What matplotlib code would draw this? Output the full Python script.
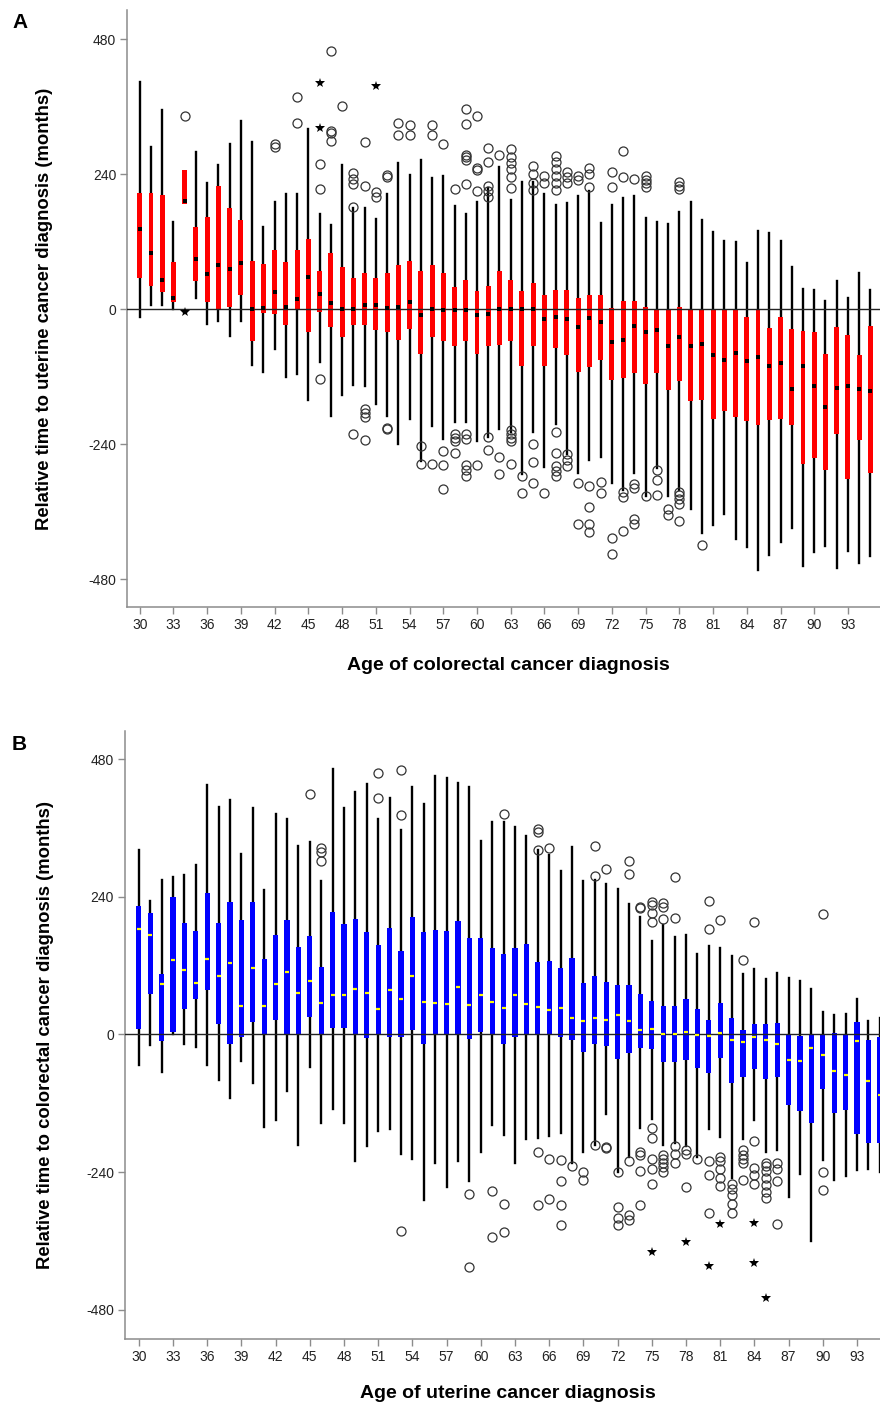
import numpy as np
import matplotlib.pyplot as plt

plt.rcParams['font.family'] = ['Liberation Sans', 'DejaVu Sans']
plt.rcParams['axes.unicode_minus'] = False

ages = list(range(30, 96))
xticks = list(range(30, 94, 3))
yticks = [-480, -240, 0, 240, 480]

# Panel A: relative time to uterine cancer diagnosis, by age of colorectal cancer diagnosis
a_wlo = [-14, 8, 8, 0, 188, 20, -26, -21, -48, -21, -99, -112, -70, -120, -115, -161, -94, -190, -152, -134,
         -137, -168, -190, -239, -195, -270, -208, -230, -200, -201, -234, -227, -212, -218, -292, -218, -280, -203, -257, -290,
         -268, -263, -309, -321, -290, -332, -282, -332, -321, -355, -398, -384, -363, -408, -422, -463, -437, -413, -389, -456,
         -431, -420, -460, -429, -450, -438]
a_q1 = [55, 42, 30, 13, 188, 50, 13, 0, 5, 26, -57, -6, -9, -28, 0, -41, -4, -32, -50, -28,
        -27, -37, -41, -54, -35, -80, -50, -56, -65, -57, -79, -66, -63, -57, -101, -65, -101, -68, -82, -111,
        -103, -90, -126, -122, -113, -132, -113, -143, -128, -163, -161, -195, -181, -192, -199, -205, -197, -195, -206, -275,
        -265, -285, -222, -302, -232, -290]
a_med = [143, 101, 52, 21, 192, 90, 63, 79, 71, 83, 0, 3, 31, 5, 19, 58, 27, 12, 0, 0,
         8, 8, 3, 5, 13, -10, 0, -1, -1, -1, -10, -8, 0, 0, 0, 0, -17, -13, -17, -31,
         -15, -22, -58, -54, -30, -41, -37, -66, -50, -65, -61, -81, -90, -77, -92, -85, -101, -96, -142, -100,
         -136, -173, -140, -136, -141, -145]
a_q3 = [206, 206, 203, 85, 248, 146, 165, 219, 180, 159, 86, 81, 106, 84, 106, 125, 69, 100, 76, 55,
        64, 55, 65, 79, 86, 69, 79, 65, 40, 52, 32, 41, 69, 52, 32, 46, 26, 35, 34, 21,
        25, 26, 2, 14, 14, 4, 0, 0, 4, 0, 0, 0, 0, 0, -14, 0, -33, -14, -35, -39,
        -41, -80, -31, -46, -82, -30]
a_whi = [404, 288, 354, 155, 248, 280, 225, 256, 294, 334, 297, 146, 190, 205, 205, 321, 170, 150, 256, 180,
         180, 161, 205, 260, 238, 266, 234, 237, 183, 169, 190, 216, 253, 194, 226, 226, 205, 185, 189, 202,
         210, 154, 186, 197, 202, 162, 155, 152, 173, 190, 159, 137, 121, 120, 82, 139, 136, 121, 75, 37,
         35, 15, 51, 21, 64, 34]

a_circles = [(34, 343), (42, 294), (42, 288), (44, 377), (44, 331), (46, 258), (46, 213), (46, -123),
             (47, 460), (47, 317), (47, 313), (47, 299), (48, 362),
             (49, 242), (49, 231), (49, 222), (49, 182), (49, -222),
             (50, 297), (50, 219), (50, -177), (50, -185), (50, -192), (50, -232), (51, 208), (51, 200),
             (52, 239), (52, 236), (52, -210), (52, -213), (53, 331), (53, 310), (54, 328), (54, 310),
             (55, -242), (55, -274), (56, 328), (56, 310), (56, -274), (57, 294), (57, -252), (57, -277), (57, -319),
             (58, 214), (58, -222), (58, -228), (58, -234), (58, -255),
             (59, 356), (59, 330), (59, 275), (59, 270), (59, 265), (59, 223), (59, -222), (59, -230), (59, -277),
             (59, -286), (59, -297),
             (60, 344), (60, 252), (60, 247), (60, 210), (60, -277),
             (61, 286), (61, 261), (61, 220), (61, 210), (61, 200), (61, -227), (61, -250),
             (62, 275), (62, -263), (62, -292),
             (63, 285), (63, 270), (63, 260), (63, 250), (63, 235), (63, 215), (63, -215), (63, -222), (63, -228),
             (63, -234), (63, -274),
             (64, -297), (64, -327),
             (65, 254), (65, 240), (65, 225), (65, 212), (65, -239), (65, -272), (65, -308),
             (66, 237), (66, 225), (66, -326),
             (67, 273), (67, 262), (67, 250), (67, 237), (67, 225), (67, 212), (67, -218), (67, -256), (67, -279),
             (67, -288), (67, -297),
             (68, 244), (68, 235), (68, 225), (68, -257), (68, -268), (68, -279),
             (69, 237), (69, 230), (69, -308), (69, -382),
             (70, 252), (70, 240), (70, 218), (70, -314), (70, -352), (70, -382), (70, -395),
             (71, -306), (71, -327), (72, 244), (72, 217), (72, -406), (72, -434),
             (73, 281), (73, 235), (73, -324), (73, -333), (73, -394),
             (74, 232), (74, -311), (74, -317), (74, -372), (74, -382),
             (75, 237), (75, 230), (75, 224), (75, 218), (75, -332),
             (76, -285), (76, -303), (76, -330), (77, -355), (77, -366),
             (78, 226), (78, 220), (78, 213), (78, -324), (78, -330), (78, -337), (78, -346), (78, -377),
             (80, -419)]
a_stars = [(34, -5), (46, 402), (46, 323), (51, 397)]

# Panel B: relative time to colorectal cancer diagnosis, by age of uterine cancer diagnosis
b_wlo = [-54, -19, -66, 0, -17, -22, -54, -80, -111, -47, -85, -162, -149, -98, -192, -57, -155, -130, -154, -221,
         -194, -169, -165, -208, -218, -289, -224, -266, -221, -256, -205, -158, -176, -224, -183, -181, -177, -171, -224, -205,
         -192, -138, -239, -214, -163, -147, -192, -189, -195, -214, -165, -179, -250, -182, -149, -205, -201, -283, -243, -360,
         -219, -253, -246, -237, -234, -240]
b_q1 = [10, 70, -12, 4, 44, 61, 78, 18, -16, -5, 21, 0, 26, 0, 0, 30, 0, 12, 12, 0,
        -6, 0, -5, -5, 7, -17, 0, 0, 0, -8, 4, 0, -17, -5, 0, 0, 0, -5, -10, -30,
        -17, -21, -43, -32, -23, -26, -48, -48, -44, -58, -68, -41, -85, -74, -61, -78, -74, -123, -133, -155,
        -95, -137, -131, -173, -190, -190]
b_med = [183, 174, 88, 130, 113, 90, 132, 101, 125, 49, 115, 50, 88, 109, 73, 94, 55, 68, 68, 79,
         72, 45, 78, 61, 101, 57, 55, 53, 83, 52, 68, 57, 46, 68, 53, 47, 42, 46, 28, 23,
         28, 26, 34, 23, 7, 10, 0, 0, 5, -1, -3, 2, -9, -14, -5, -10, -17, -44, -46, -23,
         -35, -64, -70, -12, -81, -106]
b_q3 = [224, 212, 105, 239, 194, 180, 247, 195, 231, 199, 231, 131, 173, 199, 152, 172, 118, 213, 193, 202,
        178, 156, 186, 145, 204, 178, 182, 180, 198, 168, 168, 150, 141, 150, 157, 127, 128, 116, 133, 90,
        101, 92, 86, 86, 70, 59, 50, 50, 62, 44, 26, 54, 28, 7, 18, 18, 20, 0, -3, 0,
        0, 3, -1, 21, -10, -4]
b_whi = [322, 233, 270, 275, 278, 295, 435, 397, 408, 315, 395, 251, 385, 375, 328, 335, 267, 463, 395, 423,
         437, 375, 413, 357, 432, 402, 451, 447, 438, 431, 338, 370, 370, 362, 346, 322, 312, 285, 326, 267,
         270, 262, 253, 228, 204, 163, 191, 170, 174, 141, 155, 151, 137, 105, 114, 96, 107, 99, 94, 79,
         39, 34, 35, 62, 24, 28]

b_circles = [(45, 420), (46, 325), (46, 318), (46, 302), (51, 456), (51, 412), (53, 461), (53, 383), (53, -342),
             (59, -279), (59, -405), (61, -273), (61, -354), (62, 384), (62, -295), (62, -344),
             (65, 359), (65, 353), (65, 322), (65, -205), (65, -297), (66, 325), (66, -218), (66, -287),
             (67, -219), (67, -256), (67, -297), (67, -332), (68, -229), (69, -240), (69, -253),
             (70, 328), (70, 276), (70, -192), (71, 289), (71, -196), (71, -198),
             (72, -240), (72, -300), (72, -320), (72, -333),
             (73, 302), (73, 280), (73, -221), (73, -315), (73, -324),
             (74, 222), (74, 220), (74, -205), (74, -211), (74, -238), (74, -297),
             (75, 231), (75, 225), (75, 212), (75, 196), (75, -163), (75, -181), (75, -218), (75, -234), (75, -261),
             (76, 230), (76, 222), (76, 202), (76, -211), (76, -218), (76, -225), (76, -232), (76, -240),
             (77, 275), (77, 203), (77, -195), (77, -208), (77, -224),
             (78, -202), (78, -209), (78, -266), (79, -218),
             (80, 233), (80, 183), (80, -221), (80, -245), (80, -311),
             (81, 199), (81, -213), (81, -220), (81, -234), (81, -250), (81, -265),
             (82, -260), (82, -270), (82, -280), (82, -295), (82, -311),
             (83, 129), (83, -202), (83, -210), (83, -217), (83, -224), (83, -253),
             (84, 196), (84, -185), (84, -233), (84, -245), (84, -260),
             (85, -224), (85, -230), (85, -238), (85, -250), (85, -262), (85, -275), (85, -286),
             (86, -224), (86, -234), (86, -255), (86, -331),
             (90, 210), (90, -240), (90, -271)]
b_stars = [(75, -379), (78, -362), (80, -403), (81, -331), (84, -329), (84, -399), (85, -460)]


def draw_panel(ax, wlo, q1, med, q3, whi, circles, stars, box_color, med_color, med_marker,
               xlim, ylim, xlabel, ylabel):
    stats = [dict(whislo=w0, q1=b0, med=m, q3=b1, whishi=w1, fliers=[])
             for w0, b0, m, b1, w1 in zip(wlo, q1, med, q3, whi)]
    bp = ax.bxp(stats, positions=ages, widths=0.44, patch_artist=True, showcaps=False,
                showfliers=False, manage_ticks=False,
                boxprops=dict(facecolor=box_color, edgecolor='none', linewidth=0),
                whiskerprops=dict(color='black', linewidth=1.7),
                medianprops=dict(linewidth=0))
    for b in bp['boxes']:
        b.set_zorder(2.5)
    ax.axhline(0, color='#222222', linewidth=1.0, zorder=3)
    if med_marker == 's':
        ax.plot(ages, med, ls='none', marker='s', ms=2.2, color=med_color, mew=0, zorder=4)
    else:
        ax.plot(ages, med, ls='none', marker='_', ms=3.5, mew=1.6, color=med_color, zorder=4)
    cx, cy = zip(*circles)
    ax.plot(cx, cy, ls='none', marker='o', ms=6.5, mfc='none', mec='#333333', mew=0.9, zorder=5)
    sx, sy = zip(*stars)
    ax.plot(sx, sy, ls='none', marker='*', ms=7.5, color='black', mew=0, zorder=5)

    ax.set_xlim(*xlim)
    ax.set_ylim(*ylim)
    ax.set_xticks(xticks)
    ax.set_yticks(yticks)
    for s in ['top', 'right']:
        ax.spines[s].set_visible(False)
    for s in ['left', 'bottom']:
        ax.spines[s].set_color('#8c8c8c')
        ax.spines[s].set_linewidth(1.1)
    ax.tick_params(direction='out', length=5, width=1, color='#8c8c8c',
                   labelsize=10, labelcolor='#222222', pad=3)
    ax.set_xlabel(xlabel, fontsize=14, fontweight='bold', va='center')
    ax.set_ylabel(ylabel, fontsize=13.3, fontweight='bold', va='center')


fig = plt.figure(figsize=(8.8, 14.08), dpi=100)

axA = fig.add_axes([127.4 / 880, 1 - 607 / 1408, 755.4 / 880, 597 / 1408])
draw_panel(axA, a_wlo, a_q1, a_med, a_q3, a_whi, a_circles, a_stars, '#ff0000', 'black', 's',
           (28.9, 96.1), (-529, 532),
           'Age of colorectal cancer diagnosis',
           'Relative time to uterine cancer diagnosis (months)')
axA.xaxis.set_label_coords((508 - 127.4) / 755.4, -(666 - 607) / 597)
axA.yaxis.set_label_coords((45 - 127.4) / 755.4, 0.5)

axB = fig.add_axes([125 / 880, 1 - 1339 / 1408, 768.6 / 880, 608 / 1408])
draw_panel(axB, b_wlo, b_q1, b_med, b_q3, b_whi, b_circles, b_stars, '#0000ff', '#ffff00', '_',
           (28.79, 96.21), (-531, 529),
           'Age of uterine cancer diagnosis',
           'Relative time to colorectal cancer diagnosis (months)')
axB.xaxis.set_label_coords((508 - 125) / 768.6, -(1394 - 1339) / 608)
axB.yaxis.set_label_coords((45 - 125) / 768.6, 0.5)

fig.text(12 / 880, 1 - 22 / 1408, 'A', fontsize=15, fontweight='bold', ha='left', va='center')
fig.text(12 / 880, 1 - 744 / 1408, 'B', fontsize=15, fontweight='bold', ha='left', va='center')

fig.savefig('out.png', dpi=100)
